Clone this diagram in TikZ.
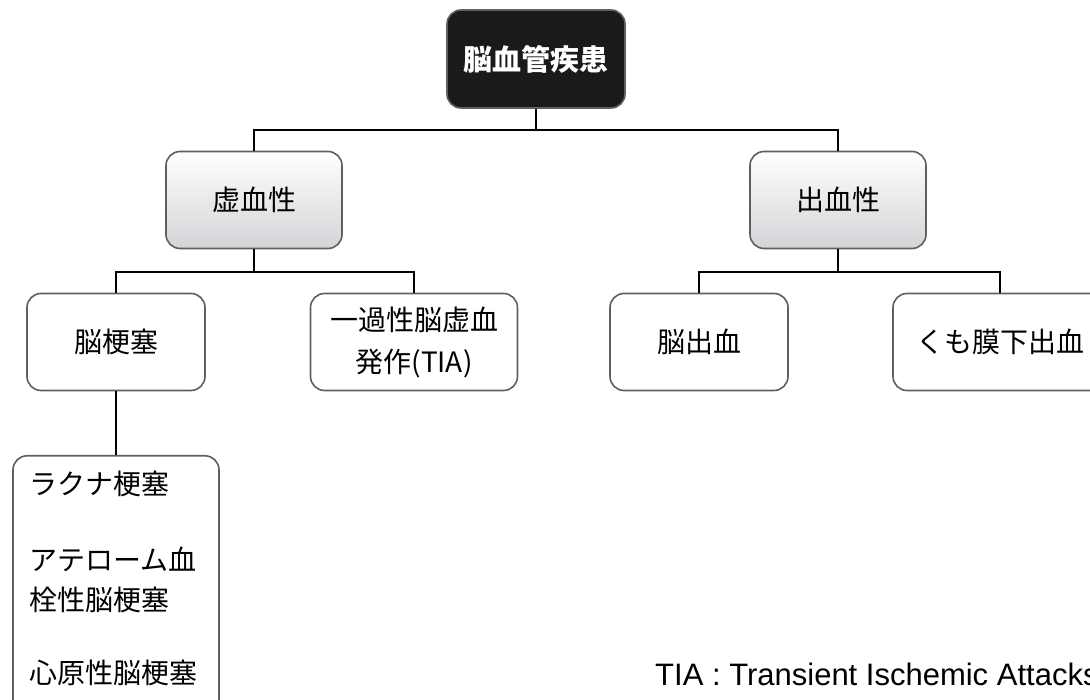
\documentclass[tikz,border=0pt]{standalone}
\usepackage{fontspec}
\setmainfont{Liberation Sans}
\newfontfamily\cjk{Noto Sans CJK JP}
\begin{document}
\begin{tikzpicture}[x=1pt,y=-1pt,
  box/.style={draw={rgb,255:red,95;green,95;blue,95}, line width=1.6pt, rounded corners=14pt,
    minimum height=97pt, inner sep=0pt, align=center, fill=white,
    font=\cjk\fontsize{28}{42}\selectfont},
  topbox/.style={box, fill={rgb,255:red,26;green,26;blue,24}, text=white,
    font=\cjk\bfseries\fontsize{29}{42}\selectfont},
  gbox/.style={box, top color=white, bottom color={rgb,255:red,212;green,212;blue,216}},
  conn/.style={line width=2pt, black},
  item/.style={anchor=west, inner sep=0pt, font=\cjk\fontsize{28}{42}\selectfont}
]
\useasboundingbox (0,0) rectangle (1090,700);
\clip (0,0) rectangle (1090,700);
\fill[white] (0,0) rectangle (1090,700);

\node[topbox, minimum width=178pt, minimum height=98pt] (top) at (536,59) {脳血管疾患};
\node[gbox, minimum width=176pt] (isch) at (254,200) {虚血性};
\node[gbox, minimum width=176pt] (hem) at (838,200) {出血性};
\node[box, minimum width=178pt] (inf) at (116,342) {脳梗塞};
\node[box, minimum width=207pt] (tia) at (414,342) {一過性脳虚血\\発作(TIA)};
\node[box, minimum width=178pt] (ich) at (699,342) {脳出血};
\node[box, minimum width=214pt] (sah) at (1000,342) {くも膜下出血};
\node[box, minimum width=206pt, minimum height=260pt, anchor=north] (sub) at (116,455) {};

\node[item] (t1) at (29,484) {ラクナ梗塞};
\node[item] (t2) at (29,559) {アテローム血};
\node[item] (t3) at (29,600) {栓性脳梗塞};
\node[item] (t4) at (29,673) {心原性脳梗塞};

\node[anchor=west, inner sep=0pt, font=\fontsize{31}{36}\selectfont] (note) at (655,674) {TIA : Transient Ischemic Attacks};

\coordinate (j1) at (536,130);
\coordinate (j2) at (254,272);
\coordinate (j3) at (838,272);
\draw[conn] (top.south) -- (j1);
\draw[conn] (isch.north) |- (j1) -| (hem.north);
\draw[conn] (isch.south) -- (j2);
\draw[conn] (inf.north) |- (j2) -| (tia.north);
\draw[conn] (hem.south) -- (j3);
\draw[conn] (ich.north) |- (j3) -| (sah.north);
\draw[conn] (inf.south) -- (sub.north);
\end{tikzpicture}
\end{document}
